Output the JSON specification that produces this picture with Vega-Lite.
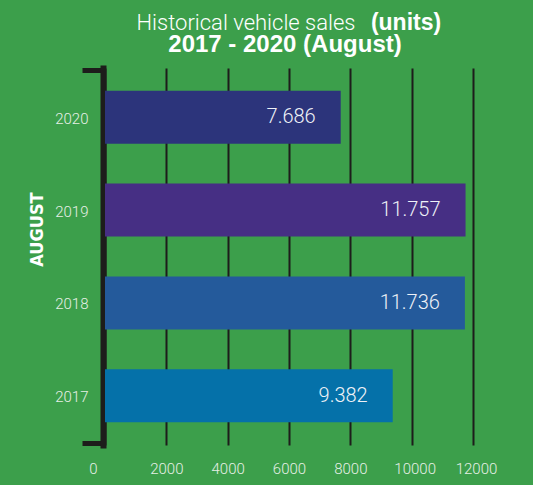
{
  "$schema": "https://vega.github.io/schema/vega-lite/v6.json",
  "width": 368,
  "height": 377,
  "autosize": {"type": "none"},
  "padding": {"left": 105, "top": 68, "right": 60, "bottom": 40},
  "background": "#3c9f4b",
  "config": {
    "view": {"stroke": null},
    "font": "Liberation Sans",
    "axis": {"labelOverlap": false, "labelSeparation": 0},
    "locale": {"number": {"decimal": ",", "thousands": ".", "grouping": [3], "currency": ["", " €"]}}
  },
  "title": {
    "text": "2017 - 2020 (August)",
    "anchor": "middle",
    "dx": -4,
    "offset": -65,
    "baseline": "alphabetic",
    "font": "Liberation Sans",
    "fontSize": 24,
    "fontWeight": "bold",
    "color": "#ffffff"
  },
  "data": {
    "values": [
      {"year": 2020, "units": 7686},
      {"year": 2019, "units": 11757},
      {"year": 2018, "units": 11736},
      {"year": 2017, "units": 9382}
    ]
  },
  "layer": [
    {
      "mark": {"type": "bar", "orient": "horizontal", "size": 53},
      "encoding": {
        "y": {
          "field": "year",
          "type": "quantitative",
          "scale": {"domain": [2016.47, 2020.53], "nice": false, "zero": false, "padding": 0},
          "axis": {
            "values": [2016.49, 2017, 2018, 2019, 2020, 2020.51],
            "tickCount": 30,
            "tickMinStep": 0.01,
            "labelExpr": "datum.value % 1 ? '' : format(datum.value, 'd')",
            "labelOverlap": false,
            "grid": false,
            "offset": 2,
            "domainColor": "#1d1d1b",
            "domainWidth": 6,
            "domainCap": "square",
            "tickColor": "#1d1d1b",
            "tickWidth": 5,
            "tickSize": 21,
            "tickOpacity": {"condition": {"test": "datum.value % 1 == 0", "value": 0}, "value": 1},
            "labelPadding": -6,
            "labelOffset": 1,
            "labelFont": "Roboto",
            "labelFontWeight": 300,
            "labelFontSize": 15,
            "labelColor": "#e6efe6",
            "title": "AUGUST",
            "titleFont": "DejaVu Sans Condensed",
            "titleFontSize": 18,
            "titleFontWeight": "bold",
            "titleColor": "#ffffff",
            "titleAngle": 270,
            "titleAlign": "center",
            "titleBaseline": "middle",
            "titleX": -66,
            "titleY": 161
          }
        },
        "x": {
          "field": "units",
          "type": "quantitative",
          "scale": {"domain": [0, 12000], "nice": false, "padding": 0},
          "axis": {
            "values": [0, 2000, 4000, 6000, 8000, 10000, 12000],
            "tickCount": 30,
            "format": "d",
            "labelOverlap": false,
            "labelFlush": false,
            "domain": false,
            "ticks": false,
            "grid": true,
            "gridColor": "#1d1d1b",
            "gridWidth": 2,
            "gridOpacity": 1,
            "labelPadding": 16,
            "labelFont": "Roboto",
            "labelFontWeight": 300,
            "labelFontSize": 15,
            "labelColor": "#e6efe6",
            "labelOffset": {"condition": [{"test": "datum.value === 0", "value": -12}, {"test": "datum.value >= 10000", "value": 3}], "value": 0},
            "title": null
          }
        },
        "color": {
          "field": "year",
          "type": "nominal",
          "scale": {"domain": [2017, 2018, 2019, 2020], "range": ["#0571a9", "#245a9b", "#462f84", "#2c347b"]},
          "legend": null
        }
      }
    },
    {
      "mark": {
        "type": "text",
        "align": "right",
        "baseline": "middle",
        "dx": -25,
        "font": "Roboto",
        "fontWeight": 300,
        "fontSize": 20,
        "color": "#eef1f7"
      },
      "encoding": {
        "x": {
          "field": "units",
          "type": "quantitative",
          "axis": {
            "orient": "top",
            "domain": false,
            "ticks": false,
            "labels": false,
            "grid": false,
            "title": "Historical vehicle sales",
            "titleFont": "Roboto",
            "titleFontWeight": 300,
            "titleFontSize": 22,
            "titleColor": "#ffffff",
            "titleAlign": "center",
            "titleBaseline": "alphabetic",
            "titleX": 140.5,
            "titleY": -38.7
          }
        },
        "y": {
          "field": "year",
          "type": "quantitative",
          "axis": {
            "orient": "right",
            "domain": false,
            "ticks": false,
            "labels": false,
            "grid": false,
            "title": "(units)",
            "titleFont": "Liberation Sans",
            "titleFontWeight": "bold",
            "titleFontSize": 23,
            "titleColor": "#ffffff",
            "titleAngle": 0,
            "titleAlign": "center",
            "titleBaseline": "alphabetic",
            "titleX": -67.5,
            "titleY": -38.7
          }
        },
        "text": {"field": "units", "type": "quantitative", "format": ",d"}
      }
    }
  ],
  "resolve": {"axis": {"x": "independent", "y": "independent"}}
}
